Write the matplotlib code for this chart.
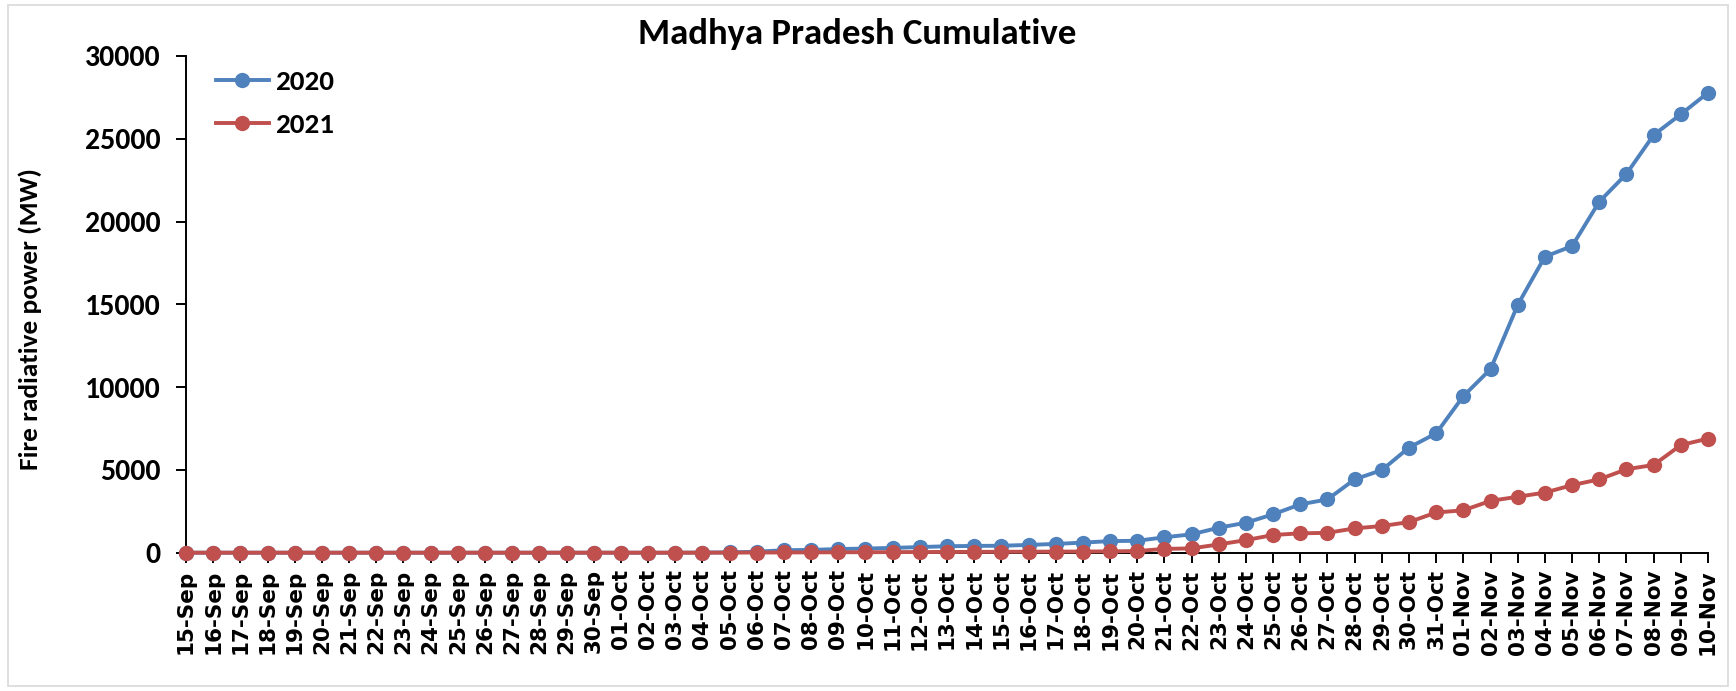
import matplotlib
matplotlib.use("Agg")
import matplotlib.pyplot as plt
from matplotlib.patches import Rectangle

dates = ([f"{d}-Sep" for d in range(15, 31)] +
         [f"{d:02d}-Oct" for d in range(1, 32)] +
         [f"{d:02d}-Nov" for d in range(1, 11)])

fire_2020 = [0, 0, 0, 0, 0, 0, 0, 0, 0, 0, 0, 0, 0, 0, 0, 0,
             0, 0, 0, 10, 20, 60, 150, 170, 220, 250, 290, 340, 390, 410,
             420, 470, 530, 610, 700, 720, 930, 1110, 1510, 1810, 2320, 2920,
             3220, 4430, 4990, 6350, 7210,
             9460, 11090, 14970, 17880, 18520, 21200, 22880, 25230, 26480, 27780]

fire_2021 = [0, 0, 0, 0, 0, 0, 0, 0, 0, 0, 0, 0, 0, 0, 0, 0,
             0, 0, 0, 0, 5, 10, 15, 20, 25, 30, 35, 40, 45, 50,
             55, 60, 65, 70, 80, 100, 230, 260, 500, 760, 1070, 1170,
             1200, 1470, 1610, 1850, 2430,
             2560, 3130, 3380, 3630, 4080, 4430, 5040, 5300, 6500, 6890]

series_names = ["2020", "2021"]
colors = ["#4F81BD", "#C0504D"]
yticks = [0, 5000, 10000, 15000, 20000, 25000, 30000]

CAL = ["Carlito", "Lato", "DejaVu Sans"]
XFONT = ["DejaVu Sans"]
plt.rcParams["font.family"] = CAL

W, H = 1736, 691
AX_L, AX_R, AX_B, AX_T = 186, 1708, 552.7, 56
fig = plt.figure(figsize=(W / 100, H / 100), dpi=100)
ax = fig.add_axes([AX_L / W, (H - AX_B) / H, (AX_R - AX_L) / W, (AX_B - AX_T) / H])

x = list(range(len(dates)))
for vals, name, c in zip([fire_2020, fire_2021], series_names, colors):
    ax.plot(x, vals, color=c, lw=2.8, marker="o", markersize=11,
            markeredgewidth=0, label=name, clip_on=False, zorder=3)

ax.set_xlim(0, len(dates) - 1)
ax.set_ylim(0, 30000)
ax.set_yticks(yticks)
ax.set_yticklabels([str(v) for v in yticks], fontsize=21.5, fontweight="bold")
ax.set_xticks(x)
ax.set_xticklabels(dates, rotation=90, fontsize=15.5, fontweight="bold", family=XFONT)

for s in ["top", "right"]:
    ax.spines[s].set_visible(False)
for s in ["left", "bottom"]:
    ax.spines[s].set_linewidth(1.4)
    ax.spines[s].set_color("black")
ax.tick_params(axis="both", direction="out", length=7, width=1.4, color="black")
ax.tick_params(axis="y", pad=11)
ax.tick_params(axis="x", pad=5)

fig.text(30 / W, 1 - 319 / H, "Fire radiative power (MW)", rotation=90,
         ha="center", va="center", fontsize=19.7, fontweight="bold")

fig.text(857 / W, 1 - 34 / H, "Madhya Pradesh Cumulative", ha="center", va="center",
         fontsize=26.5, fontweight="bold")

leg = ax.legend(loc="upper left",
                bbox_to_anchor=((216 - AX_L) / (AX_R - AX_L), 1 - 14 / (AX_B - AX_T)),
                frameon=False, fontsize=21, handlelength=1.8, handletextpad=0.22,
                labelspacing=0.62, borderaxespad=0, borderpad=0)
for t in leg.get_texts():
    t.set_fontweight("bold")

fig.patches.append(Rectangle((8 / W, 5 / H), (1728 - 8) / W, (686 - 5) / H,
                             transform=fig.transFigure, fill=False,
                             edgecolor="#D9D9D9", lw=1.2))

fig.savefig("out.png", dpi=100)
